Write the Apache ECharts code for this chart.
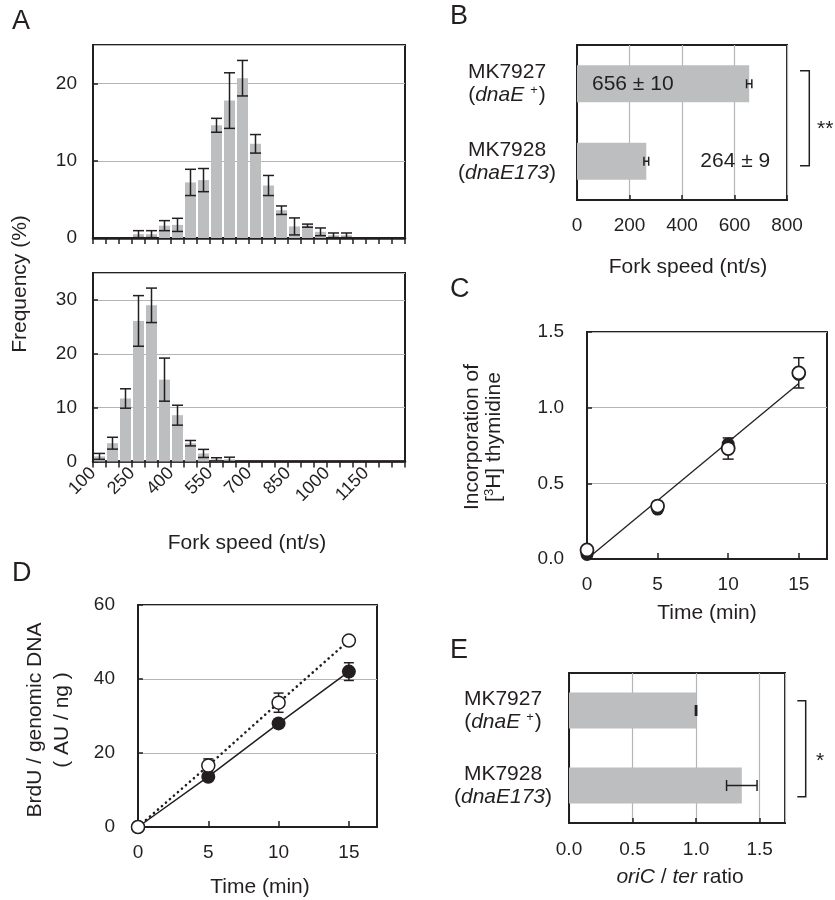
<!DOCTYPE html>
<html>
<head>
<meta charset="utf-8">
<script src="https://cdn.jsdelivr.net/npm/echarts@6/dist/echarts.min.js"></script>
<style>html,body{margin:0;padding:0;background:#fff;}#c{width:835px;height:900px;}</style>
</head>
<body>
<div id="c"></div>
<script>
// ---------- DATA ----------
// Panel A: histogram bins (start of bin, nt/s)
const binStarts = [100,150,200,250,300,350,400,450,500,550,600,650,700,750,800,850,900,950,1000,1050,1100,1150,1200,1250];
const binWidth = 50;
const topFreq = [0,0,0,0.5,0.5,1.6,1.7,7.2,7.5,14.6,17.8,20.7,12.2,6.8,3.6,1.5,1.6,0.8,0.35,0.35,0,0,0,0];
const topErr  = [0,0,0,0.45,0.45,0.65,0.85,1.7,1.5,0.9,3.6,2.3,1.2,1.3,0.55,1.1,0.2,0.5,0.3,0.3,0,0,0,0];
const botFreq = [0.95,3.4,11.7,26.1,29.0,15.2,8.6,3.4,1.5,0.4,0.4,0,0,0,0,0,0,0,0,0,0,0,0,0];
const botErr  = [0.55,1.1,1.8,4.7,3.2,4.0,1.85,0.5,0.75,0.3,0.4,0,0,0,0,0,0,0,0,0,0,0,0,0];
const histTickLabels = [100,250,400,550,700,850,1000,1150];

// Panel B: fork speed
const strains = ['MK7927','MK7928'];
const genotypes = ['dnaE','dnaE173'];
const genoSup = ['+',''];
const forkSpeed = [656,264];
const forkErr = [10,9];

// Panel C: [3H] thymidine incorporation
const timeC = [0,5,10,15];
const incFilled = [0.03,0.33,0.76,1.22];
const incOpen = [0.06,0.35,0.73,1.23];
const incOpenErr = [0,0,0.07,0.1];
const incFitX = [0,15];
const incFitY = [0.0,1.16];

// Panel D: BrdU / genomic DNA
const timeD = [0,5,10,15];
const brduFilled = [0,13.6,28,42];
const brduFilledErr = [0,0,0,2.4];
const brduOpen = [0,16.6,33.6,50.4];
const brduOpenErr = [0,1.8,2.6,0];

// Panel E: oriC / ter ratio
const oriTer = [1.0,1.36];
const oriTerErr = [0.005,0.12];

// ---------- STYLE ----------
const FONT = '"Liberation Sans", Arial, Helvetica, sans-serif';
const TXT = '#231f20';
const BAR = '#bcbec0';
const GRIDC = '#b5b5b5';

const chart = echarts.init(document.getElementById('c'), null, {renderer:'canvas'});

function vErr(capHalf){
  return function(params, api){
    const x = api.value(0), y = api.value(1), e = api.value(2);
    if(!e) return null;
    const t = api.coord([x, y+e]), b = api.coord([x, y-e]);
    const st = {stroke: TXT, lineWidth: 1.5};
    return {type:'group', children:[
      {type:'line', shape:{x1:t[0],y1:t[1],x2:b[0],y2:b[1]}, style:st},
      {type:'line', shape:{x1:t[0]-capHalf,y1:t[1],x2:t[0]+capHalf,y2:t[1]}, style:st},
      {type:'line', shape:{x1:b[0]-capHalf,y1:b[1],x2:b[0]+capHalf,y2:b[1]}, style:st}
    ]};
  };
}
function hErr(capHalf){
  return function(params, api){
    const v = api.value(0), idx = api.value(1), e = api.value(2);
    const l = api.coord([v-e, idx]), r = api.coord([v+e, idx]);
    const st = {stroke: TXT, lineWidth: 1.5};
    return {type:'group', children:[
      {type:'line', shape:{x1:l[0],y1:l[1],x2:r[0],y2:r[1]}, style:st},
      {type:'line', shape:{x1:l[0],y1:l[1]-capHalf,x2:l[0],y2:l[1]+capHalf}, style:st},
      {type:'line', shape:{x1:r[0],y1:r[1]-capHalf,x2:r[0],y2:r[1]+capHalf}, style:st}
    ]};
  };
}

const gridBase = {show:true, borderColor:TXT, borderWidth:2, backgroundColor:'transparent', containLabel:false, outerBoundsMode:'none'};
const grids = [
  Object.assign({left:93, top:45, width:312, height:193}, gridBase),   // A top
  Object.assign({left:93, top:273, width:312, height:188.5}, gridBase),// A bottom
  Object.assign({left:577, top:45, width:210, height:155}, gridBase),  // B
  Object.assign({left:587, top:332, width:240, height:227}, gridBase), // C
  Object.assign({left:138, top:605, width:239, height:222}, gridBase), // D
  Object.assign({left:569, top:673, width:216, height:150}, gridBase)  // E
];

const lblBase = {color:TXT, fontFamily:FONT, fontSize:19};
function valAxis(gi, o){
  return Object.assign({
    type:'value', gridIndex:gi,
    axisLine:{show:true, onZero:false, lineStyle:{color:TXT, width:2}},
    axisTick:{show:true, inside:true, length:5, lineStyle:{color:TXT, width:1.5}},
    axisLabel:Object.assign({margin:16}, lblBase),
    splitLine:{show:true, lineStyle:{color:GRIDC, width:1.2}}
  }, o);
}

const histX = (gi, showLbl) => valAxis(gi, {
  min:100, max:1300, interval:50,
  axisLine:{show:true, onZero:false, lineStyle:{color:TXT, width:2.5}},
  axisTick:{show:true, inside:false, length:6, lineStyle:{color:TXT, width:1.5}},
  axisLabel:Object.assign({}, lblBase, {show:showLbl, fontSize:18, rotate:45, margin:9,
    formatter: v => histTickLabels.indexOf(v) >= 0 ? String(v) : ''}),
  splitLine:{show:false}
});

const catRich = {
  a:{fontSize:21, color:TXT, fontFamily:FONT, lineHeight:23},
  i:{fontSize:21, color:TXT, fontFamily:FONT, fontStyle:'italic', lineHeight:23},
  s:{fontSize:13, color:TXT, fontFamily:FONT, verticalAlign:'top', lineHeight:13, padding:[0,1,9,6]}
};
const catFormatter = (val, idx) => {
  const i = strains.indexOf(val);
  const sup = genoSup[i] ? '{s|' + genoSup[i] + '}' : '';
  return '{a|' + strains[i] + '}\n{a|(}{i|' + genotypes[i] + '}' + sup + '{a|)}';
};
const catAxis = (gi, margin) => ({
  type:'category', gridIndex:gi, data:strains, inverse:true,
  axisLine:{show:true, lineStyle:{color:TXT, width:2}},
  axisTick:{show:false},
  axisLabel:{margin:margin, align:'center', formatter:catFormatter, rich:catRich, color:TXT, fontFamily:FONT, fontSize:21},
  splitLine:{show:false}
});

const xAxes = [
  histX(0, false),
  histX(1, true),
  valAxis(2, {min:0, max:800, interval:200}),
  valAxis(3, {min:0, max:17, interval:5, splitLine:{show:false}, axisTick:{show:true, inside:true, length:6, lineStyle:{color:TXT,width:1.5}}, axisLabel:Object.assign({margin:16, showMaxLabel:false}, lblBase)}),
  valAxis(4, {min:0, max:17, interval:5, splitLine:{show:false}, axisTick:{show:true, inside:true, length:6, lineStyle:{color:TXT,width:1.5}}, axisLabel:Object.assign({margin:16, showMaxLabel:false}, lblBase)}),
  valAxis(5, {min:0, max:1.7, interval:0.5, axisLabel:Object.assign({margin:17, showMaxLabel:false, formatter:v=>v.toFixed(1)}, lblBase)})
];
const yAxes = [
  valAxis(0, {min:0, max:25, interval:10, axisLabel:Object.assign({margin:16, showMaxLabel:false}, lblBase)}),
  valAxis(1, {min:0, max:35, interval:10, axisLabel:Object.assign({margin:16, showMaxLabel:false}, lblBase)}),
  catAxis(2, 70),
  valAxis(3, {min:0, max:1.5, interval:0.5, axisLabel:Object.assign({margin:23, formatter:v=>v.toFixed(1)}, lblBase)}),
  valAxis(4, {min:0, max:60, interval:20, axisLabel:Object.assign({margin:23}, lblBase)}),
  catAxis(5, 66)
];

const series = [
  // A top
  {type:'bar', xAxisIndex:0, yAxisIndex:0, barWidth:11, itemStyle:{color:BAR}, silent:true,
   data: binStarts.map((b,i)=>[b+binWidth/2, topFreq[i]])},
  {type:'custom', xAxisIndex:0, yAxisIndex:0, renderItem:vErr(5.5), encode:{x:0,y:1}, z:5, silent:true,
   data: binStarts.map((b,i)=>[b+binWidth/2, topFreq[i], topErr[i]])},
  // A bottom
  {type:'bar', xAxisIndex:1, yAxisIndex:1, barWidth:11, itemStyle:{color:BAR}, silent:true,
   data: binStarts.map((b,i)=>[b+binWidth/2, botFreq[i]])},
  {type:'custom', xAxisIndex:1, yAxisIndex:1, renderItem:vErr(5.5), encode:{x:0,y:1}, z:5, silent:true,
   data: binStarts.map((b,i)=>[b+binWidth/2, botFreq[i], botErr[i]])},
  // B
  {type:'bar', xAxisIndex:2, yAxisIndex:2, barWidth:37, itemStyle:{color:BAR}, silent:true,
   label:{show:true, color:TXT, fontFamily:FONT, fontSize:21,
     formatter: p => forkSpeed[p.dataIndex] + ' ± ' + forkErr[p.dataIndex]},
   data: forkSpeed.map((v,i)=>({value:v, label: i===0 ? {position:'insideLeft', distance:15} : {position:'right', distance:54}}))},
  {type:'custom', xAxisIndex:2, yAxisIndex:2, renderItem:hErr(4.5), encode:{x:0,y:1}, z:5, silent:true,
   data: forkSpeed.map((v,i)=>[v, i, forkErr[i]])},
  // C
  {type:'custom', xAxisIndex:3, yAxisIndex:3, renderItem:vErr(5.5), encode:{x:0,y:1}, z:2, silent:true,
   data: timeC.map((t,i)=>[t, incOpen[i], incOpenErr[i]])},
  {type:'line', xAxisIndex:3, yAxisIndex:3, symbol:'none', z:3, silent:true,
   lineStyle:{color:TXT, width:1.3}, data: incFitX.map((x,i)=>[x, incFitY[i]])},
  {type:'scatter', xAxisIndex:3, yAxisIndex:3, symbol:'circle', symbolSize:13, z:4, silent:true,
   itemStyle:{color:TXT, opacity:1}, data: timeC.map((t,i)=>[t, incFilled[i]])},
  {type:'scatter', xAxisIndex:3, yAxisIndex:3, symbol:'circle', symbolSize:13, z:5, silent:true,
   itemStyle:{color:'#ffffff', borderColor:TXT, borderWidth:1.8, opacity:1}, data: timeC.map((t,i)=>[t, incOpen[i]])},
  // D
  {type:'custom', xAxisIndex:4, yAxisIndex:4, renderItem:vErr(5), encode:{x:0,y:1}, z:2, silent:true,
   data: timeD.map((t,i)=>[t, brduOpen[i], brduOpenErr[i]])},
  {type:'custom', xAxisIndex:4, yAxisIndex:4, renderItem:vErr(5), encode:{x:0,y:1}, z:2, silent:true,
   data: timeD.map((t,i)=>[t, brduFilled[i], brduFilledErr[i]])},
  {type:'line', xAxisIndex:4, yAxisIndex:4, symbol:'circle', symbolSize:14, z:4, silent:true, animation:false,
   itemStyle:{color:TXT, opacity:1}, lineStyle:{color:TXT, width:1.5}, data: timeD.map((t,i)=>[t, brduFilled[i]])},
  {type:'line', xAxisIndex:4, yAxisIndex:4, symbol:'circle', symbolSize:13, z:5, silent:true, animation:false,
   itemStyle:{color:'#ffffff', borderColor:TXT, borderWidth:1.5, opacity:1},
   lineStyle:{color:TXT, width:2.6, type:[0.1,5.2], cap:'round'}, data: timeD.map((t,i)=>[t, brduOpen[i]])},
  // E
  {type:'bar', xAxisIndex:5, yAxisIndex:5, barWidth:36, itemStyle:{color:BAR}, silent:true, data: oriTer},
  {type:'custom', xAxisIndex:5, yAxisIndex:5, renderItem:hErr(5.5), encode:{x:0,y:1}, z:5, silent:true,
   data: oriTer.map((v,i)=>[v, i, oriTerErr[i]])}
];

function txt(x, y, text, o){
  return Object.assign({type:'text', x:x, y:y, silent:true,
    style:Object.assign({text:text, fill:TXT, fontFamily:FONT, fontSize:21, align:'center', verticalAlign:'middle'}, (o&&o.style)||{})},
    o ? {rotation:o.rotation||0} : {});
}
const richBase = {
  n:{fontSize:21, fill:TXT, fontFamily:FONT},
  it:{fontSize:21, fill:TXT, fontFamily:FONT, fontStyle:'italic'},
  sup:{fontSize:13, fill:TXT, fontFamily:FONT, verticalAlign:'top', padding:[0,0,9,0]}
};
const graphic = [
  // panel letters
  txt(12, 22, 'A', {style:{fontSize:27, align:'left'}}),
  txt(450, 17, 'B', {style:{fontSize:27, align:'left'}}),
  txt(450, 290, 'C', {style:{fontSize:27, align:'left'}}),
  txt(12, 574, 'D', {style:{fontSize:27, align:'left'}}),
  txt(450, 651, 'E', {style:{fontSize:27, align:'left'}}),
  // axis titles
  txt(20, 284, 'Frequency (%)', {rotation:Math.PI/2}),
  txt(247, 543, 'Fork speed (nt/s)'),
  txt(688, 267, 'Fork speed (nt/s)'),
  txt(472, 437, 'Incorporation of', {rotation:Math.PI/2}),
  {type:'text', x:494, y:437, rotation:Math.PI/2, silent:true,
   style:{text:'{n|[}{sup|3}{n|H] thymidine}', rich:richBase, align:'center', verticalAlign:'middle', fontSize:21, fontFamily:FONT, fill:TXT}},
  txt(707, 613, 'Time (min)'),
  txt(35, 720, 'BrdU / genomic DNA', {rotation:Math.PI/2}),
  txt(62, 720, '( AU / ng )', {rotation:Math.PI/2}),
  txt(260, 887, 'Time (min)'),
  {type:'text', x:680, y:877, silent:true,
   style:{text:'{it|oriC}{n| / }{it|ter}{n| ratio}', rich:richBase, align:'center', verticalAlign:'middle', fontSize:21, fontFamily:FONT, fill:TXT}},
  // significance brackets
  {type:'polyline', silent:true, shape:{points:[[800,70.7],[809.3,70.7],[809.3,165.7],[800,165.7]]}, style:{stroke:TXT, lineWidth:1.5, fill:null}},
  txt(817, 129, '**', {style:{align:'left'}}),
  {type:'polyline', silent:true, shape:{points:[[797.3,700.7],[805.7,700.7],[805.7,796.7],[797.3,796.7]]}, style:{stroke:TXT, lineWidth:1.5, fill:null}},
  txt(820, 761, '*')
];

chart.setOption({
  animation:false,
  backgroundColor:'#fff',
  textStyle:{fontFamily:FONT},
  grid:grids, xAxis:xAxes, yAxis:yAxes, series:series, graphic:graphic
});
</script>
</body>
</html>
